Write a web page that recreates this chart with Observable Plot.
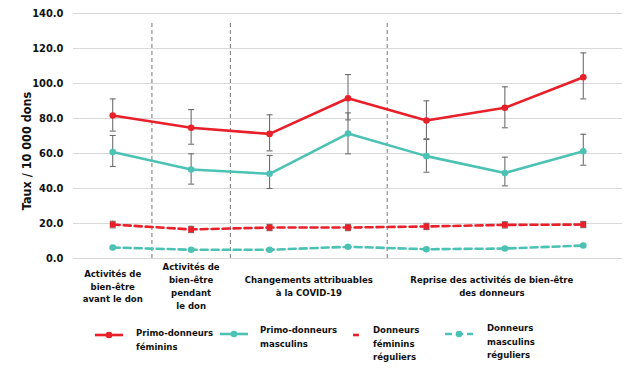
<!DOCTYPE html>
<html><head><meta charset="utf-8">
<script src="https://cdn.jsdelivr.net/npm/d3@7"></script>
<script src="https://cdn.jsdelivr.net/npm/@observablehq/plot@0.6"></script>
<style>
body{margin:0;background:#fff;}
#wrap{position:relative;width:624px;height:368px;font-family:"DejaVu Sans Condensed","DejaVu Sans",sans-serif;font-weight:700;color:#111;overflow:hidden;}
.leg{position:absolute;font-size:9.5px;line-height:13.5px;white-space:nowrap;}
.sw{position:absolute;}
</style></head><body><div id="wrap"><div id="chart"></div></div>
<script>
// ---- data ----
const periods = [1, 2, 3, 4, 5, 6, 7];
const groupLabels = [
  "Activités de\nbien-être\navant le don",
  "Activités de\nbien-être\npendant\nle don",
  "Changements attribuables\nà la COVID-19",
  "Reprise des activités de bien-être\ndes donneurs"
];
const groupSizes = [1, 1, 2, 3];
const seriesNames = ["Primo-donneurs féminins", "Primo-donneurs masculins", "Donneurs féminins réguliers", "Donneurs masculins réguliers"];
const legendLabels = ["Primo-donneurs<br>féminins", "Primo-donneurs<br>masculins", "Donneurs<br>féminins<br>réguliers", "Donneurs<br>masculins<br>réguliers"];

const primoF    = [81.7, 74.7, 71.2, 91.6, 78.9, 86.1, 103.6];
const primoFLo  = [72.8, 65.3, 61.5, 79.2, 68.4, 74.7, 91.2];
const primoFHi  = [91.2, 85.1, 82.1, 105.1, 90.1, 98.1, 117.5];
const primoM    = [60.8, 50.9, 48.4, 71.4, 58.5, 48.8, 61.3];
const primoMLo  = [52.6, 42.5, 40.0, 59.8, 49.3, 41.5, 53.3];
const primoMHi  = [70.3, 59.8, 58.9, 83.2, 68.0, 57.9, 71.0];
const regF      = [19.4, 16.6, 17.7, 17.7, 18.3, 19.2, 19.4];
const regFLo    = [17.5, 14.8, 15.9, 15.9, 16.5, 17.4, 17.6];
const regFHi    = [21.3, 18.4, 19.5, 19.5, 20.1, 21.0, 21.2];
const regM      = [6.3, 5.0, 5.0, 6.7, 5.3, 5.7, 7.4];
const regMLo    = [5.6, 4.3, 4.3, 6.0, 4.6, 5.0, 6.7];
const regMHi    = [7.0, 5.7, 5.7, 7.4, 6.0, 6.4, 8.1];
const yTicks = [0, 20, 40, 60, 80, 100, 120, 140];
const yTitle = "Taux / 10 000 dons";

// ---- build tables ----
const values = [primoF, primoM, regF, regM];
const lows = [primoFLo, primoMLo, regFLo, regMLo];
const highs = [primoFHi, primoMHi, regFHi, regMHi];
const colors = ["#e8202a", "#4cc2b4", "#e8202a", "#4cc2b4"];
const dashes = [null, null, "7,4", "7,4"];
const symbols = ["circle", "circle", "square", "circle"];

const series = seriesNames.map((name, s) => periods.map((p, i) => ({
  name, p, v: values[s][i], lo: lows[s][i], hi: highs[s][i]
})));

let acc = 0;
const groups = groupLabels.map((label, g) => {
  const start = acc + 1; acc += groupSizes[g];
  return {label, center: (start + acc) / 2};
});
// dividers between consecutive groups
const dividers = [];
{ let c = 0; for (let g = 0; g < groupSizes.length - 1; g++) { c += groupSizes[g]; dividers.push(c + 0.5); } }
const capSymbol = { draw(ctx, size) { const r = Math.sqrt(size / Math.PI); ctx.moveTo(-r, 0); ctx.lineTo(r, 0); } };

const labelStyle = {x: "center", text: "label", frameAnchor: "bottom", dy: 27, lineAnchor: "middle", lineHeight: 1.35, fontSize: 9.5, fontWeight: 700, fill: "#111"};
const marks = [
  Plot.gridY(yTicks, {stroke: "#d9d9d9", strokeOpacity: 1, strokeWidth: 1}),
  Plot.ruleX(dividers, {x: d => d, y1: 0, y2: 140, stroke: "#777", strokeWidth: 1, strokeDasharray: "4,3", insetBottom: -8}),
  Plot.axisY(yTicks, {tickFormat: d3.format(".1f"), tickSize: 0, tickPadding: 10, label: null, fontSize: 11}),
  Plot.text([yTitle], {frameAnchor: "left", textAnchor: "middle", dx: -47, dy: 15, rotate: -90, fontSize: 12.5, fontWeight: 700, fill: "#111"}),
  Plot.text(groups.slice(0, 3), labelStyle),
  Plot.text(groups.slice(3), {...labelStyle, dx: -13})
];
series.forEach((rows, s) => {
  marks.push(Plot.line(rows, {x: "p", y: "v", stroke: colors[s], strokeWidth: 2.6, strokeDasharray: dashes[s]}));
});
series.forEach((rows, s) => {
  marks.push(Plot.ruleX(rows, {x: "p", y1: "lo", y2: "hi", stroke: "#6e6e6e", strokeWidth: 1.1}));
  const caps = rows.flatMap(d => [{p: d.p, y: d.lo}, {p: d.p, y: d.hi}]);
  marks.push(Plot.dot(caps, {x: "p", y: "y", symbol: capSymbol, r: 3, stroke: "#6e6e6e", strokeWidth: 1.1, fill: "none"}));
});
series.forEach((rows, s) => {
  marks.push(Plot.dot(rows, {x: "p", y: "v", symbol: symbols[s], r: 3.3, fill: colors[s], stroke: "none"}));
});

const chart = Plot.plot({
  width: 624, height: 320,
  marginTop: 13, marginBottom: 62, marginLeft: 73, marginRight: 2,
  x: {domain: [0.5, 7.5], axis: null},
  y: {domain: [0, 140], axis: null},
  style: {fontFamily: '"DejaVu Sans Condensed","DejaVu Sans",sans-serif', fontWeight: 700, color: "#111", background: "#fff", overflow: "visible"},
  marks
});
document.getElementById("chart").appendChild(chart);

// ---- legend (HTML below the svg) ----
const wrap = document.getElementById("wrap");
const legPos = [
  {sw: 93, swTop: 326, tx: 136, tTop: 326},
  {sw: 218, swTop: 325, tx: 260, tTop: 323},
  {sw: 351, swTop: 326, tx: 373, tTop: 323},
  {sw: 443, swTop: 325, tx: 487, tTop: 321}
];
legendLabels.forEach((lab, s) => {
  const pos = legPos[s];
  let svg;
  if (s === 2) {
    svg = `<svg width="12" height="12"><line x1="2" x2="8" y1="6" y2="6" stroke="${colors[s]}" stroke-width="2.6"/></svg>`;
  } else {
    const dash = dashes[s] ? `stroke-dasharray="${dashes[s]}"` : "";
    svg = `<svg width="32" height="12"><line x1="2" x2="30" y1="6" y2="6" stroke="${colors[s]}" stroke-width="2.6" ${dash}/><circle cx="16" cy="6" r="3.3" fill="${colors[s]}"/></svg>`;
  }
  const sw = document.createElement("div");
  sw.className = "sw"; sw.style.left = pos.sw + "px"; sw.style.top = pos.swTop + "px"; sw.innerHTML = svg;
  wrap.appendChild(sw);
  const t = document.createElement("div");
  t.className = "leg"; t.style.left = pos.tx + "px"; t.style.top = pos.tTop + "px"; t.innerHTML = lab;
  wrap.appendChild(t);
});
</script></body></html>
